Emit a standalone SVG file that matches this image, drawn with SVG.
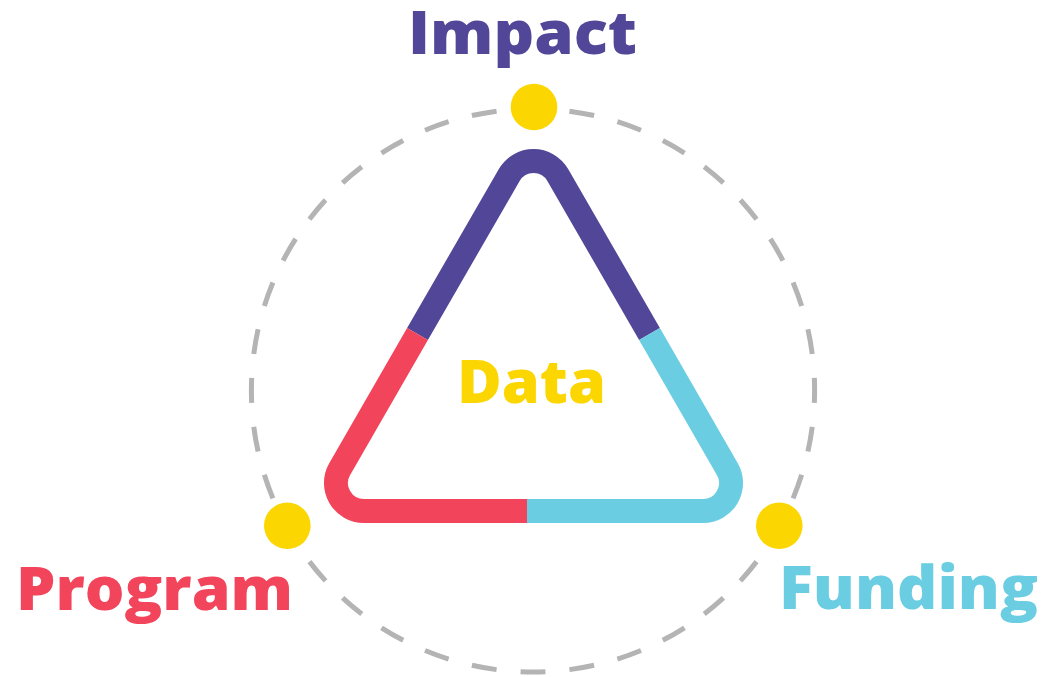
<svg xmlns="http://www.w3.org/2000/svg" width="1043" height="677" viewBox="0 0 1043 677">
<style>
.ring{fill:none;stroke:#b4b4b4;stroke-width:5}
.side{fill:none;stroke-width:24;stroke-linecap:butt;stroke-linejoin:round}
.dot{fill:#fcd600}
.lbl{font-family:"Open Sans","Liberation Sans",sans-serif;font-weight:800;font-size:60px}
</style>
<rect width="1043" height="677" fill="#ffffff"/>
<g id="ring">
<circle class="ring" cx="533" cy="390.4" r="281.6" pathLength="36" stroke-dasharray="0.51 0.49" stroke-dashoffset="0.255"/>
</g>
<g id="connectors">
<path id="edge-impact" class="side" stroke="#524699" d="M417.5,334 L509.25,175.05 A28,28 0 0 1 557.75,175.05 L649.5,334"/>
<path id="edge-program" class="side" stroke="#f2445a" d="M417.5,334 L339.75,468.95 A28,28 0 0 0 364,511 L527,511"/>
<path id="edge-funding" class="side" stroke="#6acde1" d="M527,511 L703,511 A28,28 0 0 0 727.25,468.95 L649.5,334"/>
</g>
<g id="node-impact">
<circle class="dot" cx="534" cy="107" r="23.3"/>
<text class="lbl" x="408" y="54" fill="#524699" textLength="229" lengthAdjust="spacingAndGlyphs">Impact</text>
</g>
<g id="node-program">
<circle class="dot" cx="287.3" cy="525.7" r="23.3"/>
<text class="lbl" x="16" y="610" fill="#f2445a" textLength="277" lengthAdjust="spacingAndGlyphs">Program</text>
</g>
<g id="node-funding">
<circle class="dot" cx="779.3" cy="525.7" r="23.3"/>
<text class="lbl" x="779" y="609" fill="#6acde1" textLength="259" lengthAdjust="spacingAndGlyphs">Funding</text>
</g>
<g id="node-data">
<text class="lbl" x="457" y="403" fill="#fcd600" textLength="149" lengthAdjust="spacingAndGlyphs">Data</text>
</g>
</svg>
